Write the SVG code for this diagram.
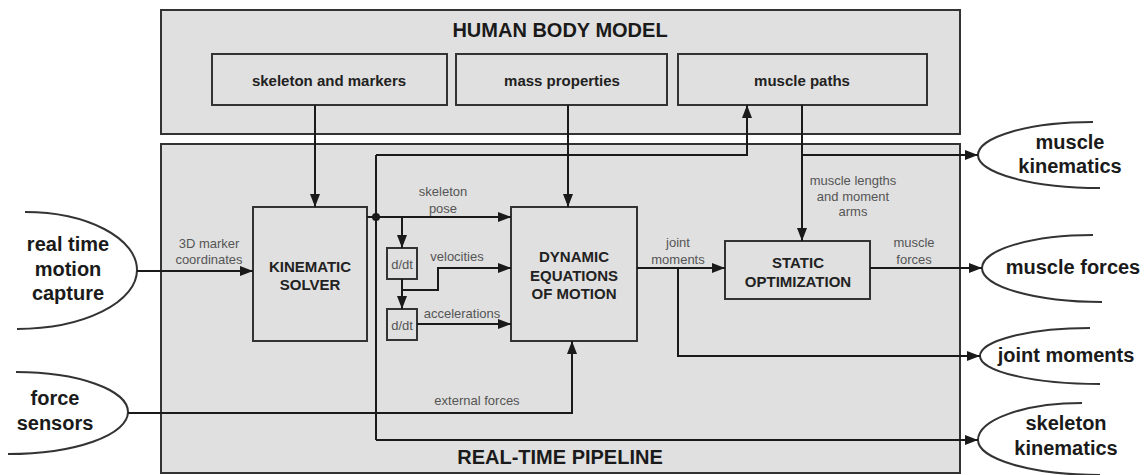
<svg xmlns="http://www.w3.org/2000/svg" width="1148" height="475" viewBox="0 0 1148 475">
<defs>
<marker id="ah" markerUnits="userSpaceOnUse" markerWidth="14" markerHeight="12" refX="13" refY="5" orient="auto">
<path d="M0,0 L13,5 L0,10 z" fill="#1a1a1a"/>
</marker>
<style>
.panel{fill:#e0e0e0;stroke:#333;stroke-width:2}
.box{fill:#e0e0e0;stroke:#333;stroke-width:2}
.title{font-family:"Liberation Sans",Arial,sans-serif;font-weight:bold;font-size:20px;fill:#1a1a1a;text-anchor:middle;dominant-baseline:central}
.bl{font-family:"Liberation Sans",Arial,sans-serif;font-weight:bold;font-size:15px;fill:#222;text-anchor:middle;dominant-baseline:central}
.big{font-family:"Liberation Sans",Arial,sans-serif;font-weight:bold;font-size:20px;fill:#1a1a1a;text-anchor:middle;dominant-baseline:central}
.lbl{font-family:"Liberation Sans",Arial,sans-serif;font-size:13px;fill:#555;text-anchor:middle;dominant-baseline:central}
.c{fill:none;stroke:#1a1a1a;stroke-width:2}
.ar{marker-end:url(#ah)}
.ell{fill:none;stroke:#333;stroke-width:2}
</style>
</defs>
<rect width="1148" height="475" fill="#fff"/>

<g id="human-body-model">
<rect class="panel" x="161" y="10" width="799" height="124"/>
<text class="title" x="560" y="30">HUMAN BODY MODEL</text>
</g>
<g id="real-time-pipeline">
<rect class="panel" x="161" y="144" width="799" height="329"/>
<text class="title" x="560" y="457">REAL-TIME PIPELINE</text>
</g>

<g id="skeleton-and-markers">
<rect class="box" x="212" y="54" width="235" height="51"/>
<text class="bl" x="329" y="80">skeleton and markers</text>
</g>
<g id="mass-properties">
<rect class="box" x="456" y="54" width="211" height="51"/>
<text class="bl" x="562" y="80">mass properties</text>
</g>
<g id="muscle-paths">
<rect class="box" x="678" y="54" width="249" height="51"/>
<text class="bl" x="802" y="80">muscle paths</text>
</g>

<g id="kinematic-solver">
<rect class="box" x="253" y="207" width="114" height="134"/>
<text class="bl" x="310" y="266">KINEMATIC</text>
<text class="bl" x="310" y="284">SOLVER</text>
</g>
<g id="dynamic-equations">
<rect class="box" x="511" y="207" width="126" height="134"/>
<text class="bl" x="574" y="256">DYNAMIC</text>
<text class="bl" x="574" y="275">EQUATIONS</text>
<text class="bl" x="574" y="293">OF MOTION</text>
</g>
<g id="static-optimization">
<rect class="box" x="725" y="241" width="145" height="58"/>
<text class="bl" x="798" y="262">STATIC</text>
<text class="bl" x="798" y="281">OPTIMIZATION</text>
</g>
<g id="ddt-1">
<rect class="box" x="387" y="248" width="30" height="31"/>
<text class="lbl" x="402" y="264">d/dt</text>
</g>
<g id="ddt-2">
<rect class="box" x="387" y="309" width="30" height="31"/>
<text class="lbl" x="402" y="325">d/dt</text>
</g>

<g id="real-time-motion-capture">
<path class="ell" d="M25,212 A112,58 0 0 1 137,270 A120,59 0 0 1 17,329"/>
<text class="big" x="68" y="244">real time</text>
<text class="big" x="68" y="269">motion</text>
<text class="big" x="68" y="293">capture</text>
</g>
<g id="force-sensors">
<path class="ell" d="M16,372 A112,40 0 0 1 128,412 A120,42 0 0 1 8,454"/>
<text class="big" x="55" y="398">force</text>
<text class="big" x="55" y="423">sensors</text>
</g>
<g id="muscle-kinematics">
<path class="ell" d="M1093,122 A115,33 0 0 0 978,155 A122,33 0 0 0 1100,188"/>
<text class="big" x="1070" y="142">muscle</text>
<text class="big" x="1070" y="166">kinematics</text>
</g>
<g id="muscle-forces">
<path class="ell" d="M1093,235 A111,33 0 0 0 982,268 A120,34 0 0 0 1102,302"/>
<text class="big" x="1073" y="267">muscle forces</text>
</g>
<g id="joint-moments">
<path class="ell" d="M1090,328 A110,28 0 0 0 980,356 A120,28 0 0 0 1100,384"/>
<text class="big" x="1066" y="355">joint moments</text>
</g>
<g id="skeleton-kinematics">
<path class="ell" d="M1082,403 A104,37 0 0 0 978,440 A122,35 0 0 0 1100,475"/>
<text class="big" x="1066" y="423">skeleton</text>
<text class="big" x="1066" y="448">kinematics</text>
</g>

<g id="connectors">
<path class="c ar" d="M315,105 V207"/>
<path class="c ar" d="M568,105 V207"/>
<path class="c ar" d="M137,271 H253"/>
<path class="c ar" d="M367,217 H511"/>
<path class="c" d="M376,155 V440"/>
<path class="c ar" d="M376,155 H747 V105"/>
<path class="c ar" d="M376,440 H978"/>
<path class="c ar" d="M402,217 V248"/>
<path class="c ar" d="M402,279 V309"/>
<path class="c ar" d="M402,290 H438 V268 H511"/>
<path class="c ar" d="M417,324 H511"/>
<path class="c ar" d="M128,413 H572 V341"/>
<path class="c ar" d="M637,268 H725"/>
<path class="c ar" d="M678,268 V356 H980"/>
<path class="c ar" d="M802,105 V241"/>
<path class="c ar" d="M802,155 H978"/>
<path class="c ar" d="M870,268 H982"/>
<circle cx="376" cy="217" r="4" fill="#1a1a1a"/>
<text class="lbl" x="209" y="243">3D marker</text>
<text class="lbl" x="209" y="259">coordinates</text>
<text class="lbl" x="443" y="191">skeleton</text>
<text class="lbl" x="443" y="208">pose</text>
<text class="lbl" x="457" y="256">velocities</text>
<text class="lbl" x="462" y="313">accelerations</text>
<text class="lbl" x="477" y="400">external forces</text>
<text class="lbl" x="678" y="242">joint</text>
<text class="lbl" x="678" y="259">moments</text>
<text class="lbl" x="914" y="242">muscle</text>
<text class="lbl" x="914" y="259">forces</text>
<text class="lbl" x="853" y="180">muscle lengths</text>
<text class="lbl" x="853" y="196">and moment</text>
<text class="lbl" x="853" y="211">arms</text>
</g>
</svg>
